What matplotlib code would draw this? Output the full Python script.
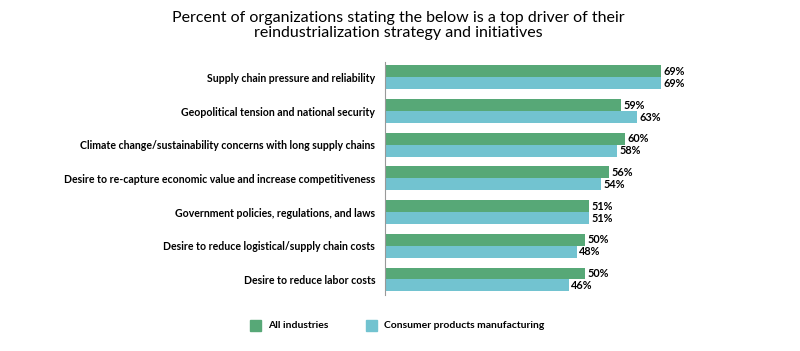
import matplotlib
matplotlib.use('Agg')
import matplotlib.pyplot as plt
import numpy as np

#------------------------------- font
plt.rcParams['font.family'] = ['Lato', 'DejaVu Sans']
#-------------------------------

#------------------------------- data
drivers = [
    'Supply chain pressure and reliability',
    'Geopolitical tension and national security',
    'Climate change/sustainability concerns with long supply chains',
    'Desire to re-capture economic value and increase competitiveness',
    'Government policies, regulations, and laws',
    'Desire to reduce logistical/supply chain costs',
    'Desire to reduce labor costs',
]
all_industries = [69, 59, 60, 56, 51, 50, 50]
consumer_products = [69, 63, 58, 54, 51, 48, 46]
series_names = ['All industries', 'Consumer products manufacturing']
colors = ['#57a877', '#72c3d0']
#-------------------------------

#------------------ chart
fig = plt.figure(figsize=(8, 3.51), dpi=100)
ax = fig.add_axes([0.48125, 0.16, 0.5, 0.663])

y = np.arange(len(drivers))
h = 0.356
ax.barh(y - h / 2, all_industries, height=h, color=colors[0])
ax.barh(y + h / 2, consumer_products, height=h, color=colors[1])

for yy, v in zip(y - h / 2, all_industries):
    ax.text(v + 0.5, yy, f'{v}%', va='center', ha='left', fontsize=7.8, fontweight='bold')
for yy, v in zip(y + h / 2, consumer_products):
    ax.text(v + 0.5, yy, f'{v}%', va='center', ha='left', fontsize=7.8, fontweight='bold')

ax.set_xlim(0, 100)
ax.set_ylim(len(drivers) - 1 + h + 0.1, -h - 0.1)
ax.set_yticks(y)
ax.set_yticklabels(drivers, fontsize=7.6, fontweight='bold')
ax.tick_params(axis='y', length=0, pad=7)
ax.set_xticks([])
for s in ['top', 'right', 'bottom']:
    ax.spines[s].set_visible(False)
ax.spines['left'].set_color('#999999')

fig.text(0.4975, 1 - 25.5 / 351, 'Percent of organizations stating the below is a top driver of their\n'
         'reindustrialization strategy and initiatives',
         ha='center', va='center', fontsize=11.5, linespacing=1.1)

# legend
fig.patches.append(plt.Rectangle((250 / 800, 1 - 331 / 351), 11 / 800, 11 / 351,
                                 transform=fig.transFigure, color=colors[0]))
fig.text(268 / 800, 1 - 325 / 351, series_names[0], va='center', fontsize=7.5, fontweight='bold')
fig.patches.append(plt.Rectangle((366 / 800, 1 - 331 / 351), 11 / 800, 11 / 351,
                                 transform=fig.transFigure, color=colors[1]))
fig.text(384 / 800, 1 - 325 / 351, series_names[1], va='center', fontsize=7.5, fontweight='bold')

plt.savefig('out.png', dpi=100)
#-------------------
